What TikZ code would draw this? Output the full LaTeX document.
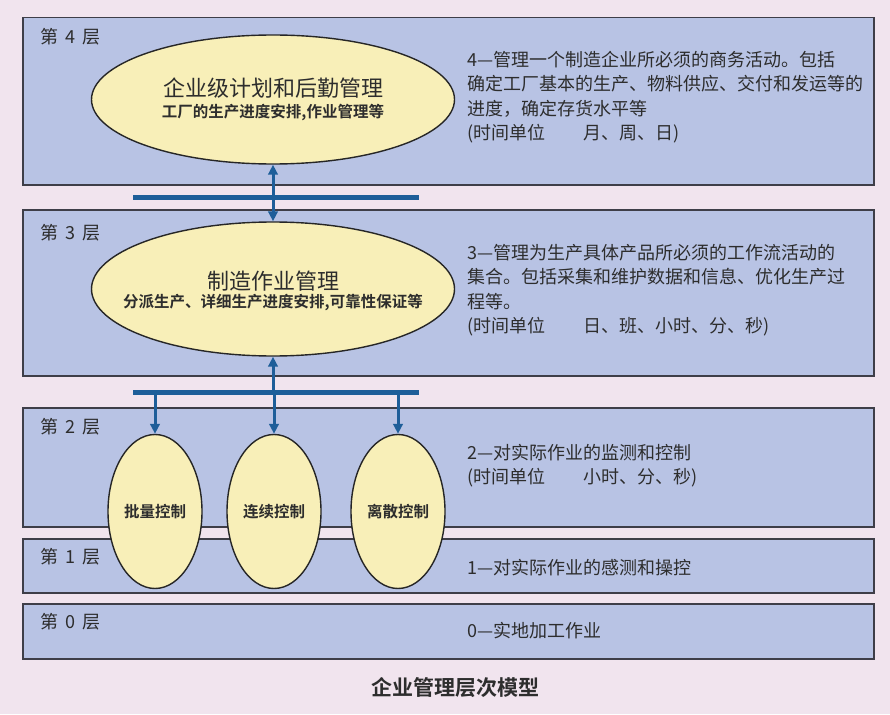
\documentclass[tikz,border=0pt]{standalone}
\usepackage{fontspec}
\setmainfont{Noto Sans CJK SC}[BoldFont={Noto Sans CJK SC Bold}]
\usetikzlibrary{shapes.geometric,arrows.meta}
\definecolor{pinkbg}{RGB}{241,228,238}
\definecolor{layerfill}{RGB}{184,195,228}
\definecolor{ellfill}{RGB}{248,239,184}
\definecolor{bluec}{RGB}{30,94,153}
\definecolor{edgec}{RGB}{62,62,72}
\definecolor{textc}{RGB}{45,45,45}
\begin{document}
\begin{tikzpicture}[x=1pt,y=-1pt,
  layerbox/.style={draw=edgec,line width=1.5pt,fill=layerfill},
  ell/.style={ellipse,draw=black!85,line width=1.4pt,fill=ellfill,inner sep=0pt},
  bus/.style={fill=bluec,inner sep=0pt,minimum height=5pt,minimum width=286pt},
  arr/.style={draw=bluec,line width=3pt,-{Triangle[length=10pt,width=9.5pt]}},
  lbl/.style={text=textc,font=\fontsize{18}{18}\selectfont,anchor=west,inner sep=0pt},
  desc/.style={text=textc,font=\fontsize{18}{24.5}\selectfont,align=left,inner sep=0pt},
  etitle/.style={text=textc,font=\fontsize{22}{22}\selectfont,inner sep=0pt},
  esub/.style={text=textc,font=\bfseries\fontsize{15.5}{15.5}\selectfont,inner sep=0pt},
  small/.style={text=textc,font=\bfseries\fontsize{15.5}{15.5}\selectfont,inner sep=0pt}]
\useasboundingbox (0,0) rectangle (890,714);
\fill[pinkbg] (0,0) rectangle (890,714);

% layers
\node[layerbox,anchor=north west,minimum width=851pt,minimum height=167pt] (L4) at (22,17) {};
\node[layerbox,anchor=north west,minimum width=851pt,minimum height=166pt] (L3) at (22,209) {};
\node[layerbox,anchor=north west,minimum width=851pt,minimum height=119pt] (L2) at (22,407) {};
\node[layerbox,anchor=north west,minimum width=851pt,minimum height=54pt] (L1) at (22,538) {};
\node[layerbox,anchor=north west,minimum width=851pt,minimum height=55pt] (L0) at (22,603) {};

% layer labels
\node[lbl] (T4) at (40,37) {第\hspace{0.4em}4\hspace{0.4em}层};
\node[lbl] (T3) at (40,233) {第\hspace{0.4em}3\hspace{0.4em}层};
\node[lbl] (T2) at (40,427) {第\hspace{0.4em}2\hspace{0.4em}层};
\node[lbl] (T1) at (40,557) {第\hspace{0.4em}1\hspace{0.4em}层};
\node[lbl] (T0) at (40,622) {第\hspace{0.4em}0\hspace{0.4em}层};

% descriptions
\node[desc,anchor=north west] (D4) at (467,51) {4—管理一个制造企业所必须的商务活动。包括\\确定工厂基本的生产、物料供应、交付和发运等的\\进度，确定存货水平等\\(时间单位\hspace{2.1em}月、周、日)};
\node[desc,anchor=north west] (D3) at (467,244) {3—管理为生产具体产品所必须的工作流活动的\\集合。包括采集和维护数据和信息、优化生产过\\程等。\\(时间单位\hspace{2.1em}日、班、小时、分、秒)};
\node[desc,anchor=north west] (D2) at (467,444) {2—对实际作业的监测和控制\\(时间单位\hspace{2.1em}小时、分、秒)};
\node[desc,anchor=west] (D1) at (467,568) {1—对实际作业的感测和操控};
\node[desc,anchor=west] (D0) at (467,631) {0—实地加工作业};

% ellipses
\node[ell,minimum width=363pt,minimum height=129pt] (E4) at (273,99.5) {};
\node[etitle] (E4t) at (273,88) {企业级计划和后勤管理};
\node[esub] (E4s) at (273,113) {工厂的生产进度安排,作业管理等};

\node[ell,minimum width=363pt,minimum height=134pt] (E3) at (273,289) {};
\node[etitle] (E3t) at (273,281) {制造作业管理};
\node[esub] (E3s) at (273,303) {分派生产、详细生产进度安排,可靠性保证等};

\node[ell,minimum width=94pt,minimum height=154pt] (EA) at (155,511.5) {};
\node[ell,minimum width=94pt,minimum height=154pt] (EB) at (274,511.5) {};
\node[ell,minimum width=94pt,minimum height=154pt] (EC) at (398,511.5) {};
\node[small] (EAt) at (155,512) {批量控制};
\node[small] (EBt) at (274,512) {连续控制};
\node[small] (ECt) at (398,512) {离散控制};

% buses
\node[bus] (B1) at (276,197) {};
\node[bus] (B2) at (276,392) {};

% connectors
\draw[arr] (E4.south |- B1.center) -- (E4.south);
\draw[arr] (E3.north |- B1.center) -- (E3.north);
\draw[arr] (E3.south |- B2.center) -- (E3.south);
\draw[arr] (EA.north |- B2.center) -- (EA.north);
\draw[arr] (EB.north |- B2.center) -- (EB.north);
\draw[arr] (EC.north |- B2.center) -- (EC.north);

% caption
\node[text=textc,font=\bfseries\fontsize{21}{21}\selectfont,inner sep=0pt] (CAP) at (455,688) {企业管理层次模型};
\end{tikzpicture}
\end{document}
